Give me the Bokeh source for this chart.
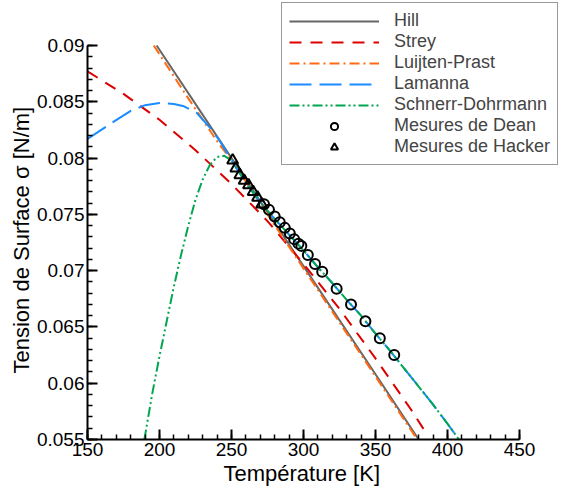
from bokeh.plotting import figure
from bokeh.models import (Range1d, SingleIntervalTicker, CustomJSTickFormatter,
                          Legend, LegendItem, Title)
from bokeh.embed import file_html
from bokeh.resources import INLINE

# ---- data ----
hill_T = [198, 250, 300, 350, 380]
hill_s = [0.0900, 0.0800, 0.0704, 0.0608, 0.0550]

strey_T = [150, 175, 200, 225, 250, 275, 300, 325, 350, 375, 386]
strey_s = [0.0877, 0.0857, 0.0834, 0.0807, 0.0777, 0.0744, 0.0706, 0.0666, 0.0622, 0.0576, 0.0554]

luijten_T = [196, 220, 240, 250, 300, 350, 379]
luijten_s = [0.0900, 0.0853, 0.0815, 0.0798, 0.0702, 0.0606, 0.0550]

lamanna_T = [150, 163, 180, 190, 200, 210, 217, 226, 235, 242, 250, 260, 271, 280, 290,
             300, 310, 320, 330, 340, 350, 360, 370, 380, 390, 400, 408]
lamanna_s = [0.0817, 0.0828, 0.0842, 0.0847, 0.0849, 0.0848, 0.0846, 0.0840, 0.0827, 0.0815,
             0.0798, 0.0778, 0.0759, 0.0746, 0.0732, 0.0718, 0.0703, 0.0689, 0.0674, 0.0660,
             0.0644, 0.0629, 0.0613, 0.0597, 0.0581, 0.0564, 0.0550]

schnerr_T = [189.5, 195, 200, 205, 210, 215, 220, 225, 230, 235, 240, 245, 250, 260, 271, 280,
             290, 300, 310, 320, 330, 340, 350, 360, 370, 380, 390, 400, 408]
schnerr_s = [0.0550, 0.0591, 0.0624, 0.0655, 0.0686, 0.0714, 0.0740, 0.0763, 0.0781, 0.0794,
             0.0801, 0.0802, 0.0798, 0.0778, 0.0759, 0.0746, 0.0732, 0.0718, 0.0703, 0.0689,
             0.0674, 0.0660, 0.0644, 0.0629, 0.0613, 0.0597, 0.0581, 0.0564, 0.0550]

dean_T = [272.6, 276, 280, 283.5, 287, 290.5, 293.5, 296.5, 298.5, 303, 308, 313,
          323, 333, 343, 353, 363]
dean_s = [0.0759, 0.0754, 0.0748, 0.0743, 0.0738, 0.0733, 0.0728, 0.0724, 0.0722, 0.0714,
          0.0706, 0.0699, 0.0684, 0.0670, 0.0655, 0.0640, 0.0625]

hacker_T = [250.8, 253, 255.8, 258.8, 261.8, 265, 268.1, 271]
hacker_s = [0.0798, 0.0791, 0.0785, 0.0780, 0.0776, 0.0770, 0.0765, 0.0759]

labels = ["Hill", "Strey", "Luijten-Prast", "Lamanna", "Schnerr-Dohrmann",
          "Mesures de Dean", "Mesures de Hacker"]

x_bounds = (150, 450)
y_bounds = (0.055, 0.09)

FONT = "Liberation Sans"

# layout: the frame fills the canvas to the top and right so the legend can overhang
W, H = 583, 494
LEFT, BOTTOM = 87, 55
PX_PER_K = 1.44
PX_PER_UNIT = 11257.0
x_end = x_bounds[0] + (W - LEFT) / PX_PER_K
y_end = y_bounds[0] + (H - BOTTOM) / PX_PER_UNIT

p = figure(width=W, height=H, output_backend="svg", toolbar_location=None,
           x_range=Range1d(x_bounds[0], x_end), y_range=Range1d(y_bounds[0], y_end),
           min_border_left=LEFT, min_border_right=0, min_border_top=0,
           min_border_bottom=BOTTOM)
p.outline_line_color = None
p.xgrid.visible = False
p.ygrid.visible = False
p.background_fill_color = "white"
p.border_fill_color = "white"

r_hill = p.line(hill_T, hill_s, line_color="#666666", line_width=2)
r_strey = p.line(strey_T, strey_s, line_color="#dd0000", line_width=2, line_dash="12 9")
r_luij = p.line(luijten_T, luijten_s, line_color="#ff6a13", line_width=2, line_dash="10 4 2 4")
r_lam = p.line(lamanna_T, lamanna_s, line_color="#1a8cff", line_width=2, line_dash="22 8")
r_sch = p.line(schnerr_T, schnerr_s, line_color="#00a651", line_width=2, line_dash="10 3 2 3 2 3")
r_dean = p.scatter(dean_T, dean_s, marker="circle", size=10, fill_color=None,
                   line_color="black", line_width=2)
r_hack = p.scatter(hacker_T, hacker_s, marker="triangle", size=11, fill_color=None,
                   line_color="black", line_width=2)

fmt = CustomJSTickFormatter(code="return String(parseFloat(tick.toFixed(4)));")
for ax, interval, bnds in ((p.xaxis[0], 50, x_bounds), (p.yaxis[0], 0.005, y_bounds)):
    ax.bounds = bnds
    ax.ticker = SingleIntervalTicker(interval=interval, num_minor_ticks=5)
    ax.formatter = fmt
    ax.axis_line_width = 2
    ax.axis_line_color = "black"
    ax.major_tick_line_width = 2
    ax.major_tick_line_color = "black"
    ax.minor_tick_line_width = 1.5
    ax.minor_tick_line_color = "black"
    ax.major_tick_in = 10
    ax.major_tick_out = 0
    ax.minor_tick_in = 5
    ax.minor_tick_out = 0
    ax.major_label_text_font = FONT
    ax.major_label_text_font_size = "19px"
    ax.major_label_text_color = "black"
    ax.major_label_standoff = 3

# axis titles placed along the bounded axes
xtitle = Title(text="Température [K]", align="left", offset=136, standoff=0,
               text_font=FONT, text_font_size="22px", text_font_style="normal",
               text_color="black")
ytitle = Title(text="Tension de Surface σ [N/m]", align="left", offset=66, standoff=0,
               text_font=FONT, text_font_size="22px", text_font_style="normal",
               text_color="black")
p.add_layout(xtitle, "below")
p.add_layout(ytitle, "left")

items = [LegendItem(label=lab, renderers=[r]) for lab, r in
         zip(labels, [r_hill, r_strey, r_luij, r_lam, r_sch, r_dean, r_hack])]
legend = Legend(items=items, location=(194, H - BOTTOM - 165), glyph_width=90, glyph_height=18,
                label_height=18, spacing=0, padding=7, label_standoff=15,
                label_text_font=FONT, label_text_font_size="18px",
                border_line_color="#333333", border_line_width=1.5,
                background_fill_color="white", background_fill_alpha=1.0, margin=0)
p.add_layout(legend, "center")

open("out.html", "w").write(file_html(p, INLINE))
